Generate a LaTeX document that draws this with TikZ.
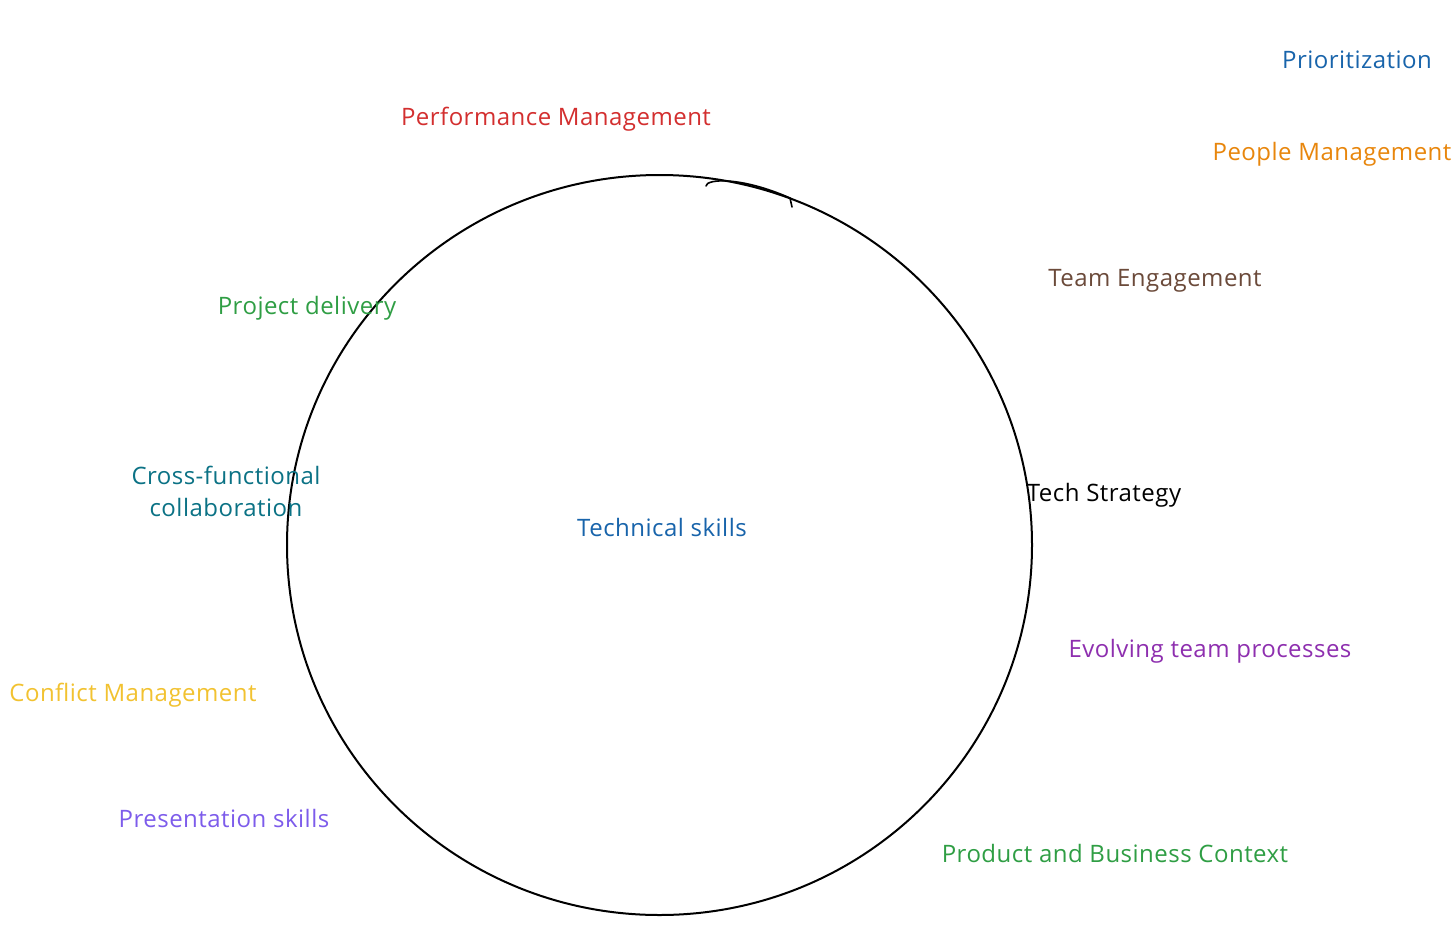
\documentclass[tikz,border=0pt]{standalone}
\usepackage{fontspec}
\setmainfont{Open Sans}[LetterSpace=2]
\definecolor{cred}{HTML}{D32F2F}
\definecolor{cblue}{HTML}{1864AB}
\definecolor{corange}{HTML}{E8860C}
\definecolor{cbrown}{HTML}{6B4A3A}
\definecolor{cgreen}{HTML}{2F9E44}
\definecolor{cteal}{HTML}{0B7285}
\definecolor{cyellow}{HTML}{F2C230}
\definecolor{cviolet}{HTML}{7D5CEB}
\definecolor{cgrape}{HTML}{8E2FAF}
\tikzset{
  lbl/.style={font=\fontsize{24}{32}\selectfont, inner sep=0pt, align=center},
  ring/.style={draw=black, line width=2pt}
}
\begin{document}
\begin{tikzpicture}[x=1pt,y=-1pt]
\useasboundingbox (0,0) rectangle (1456,932);
\fill[white] (0,0) rectangle (1456,932);
\draw[ring] (659.5,545) ellipse [x radius=372.5, y radius=370];
\draw[black, line width=1.6pt, line cap=round] (706,186) .. controls (706,179) and (740,176) .. (790,198) -- (792,207);
\node[lbl, text=cblue] (prio) at (1357,60) {Prioritization};
\node[lbl, text=corange] (people) at (1332,154) {People Management};
\node[lbl, text=cred] (perf) at (556,119) {Performance Management};
\node[lbl, text=cbrown] (team) at (1155,281) {Team Engagement};
\node[lbl, text=cgreen] (proj) at (307,308) {Project delivery};
\node[lbl, text=cteal] (cross) at (226,491) {Cross-functional\\collaboration};
\node[lbl, text=cblue] (tech) at (662,527) {Technical skills};
\node[lbl, text=black] (strat) at (1104,495) {Tech Strategy};
\node[lbl, text=cgrape] (evol) at (1210,651) {Evolving team processes};
\node[lbl, text=cyellow] (conf) at (133,695) {Conflict Management};
\node[lbl, text=cviolet] (pres) at (224,818) {Presentation skills};
\node[lbl, text=cgreen] (prod) at (1115,853) {Product and Business Context};
\end{tikzpicture}
\end{document}
